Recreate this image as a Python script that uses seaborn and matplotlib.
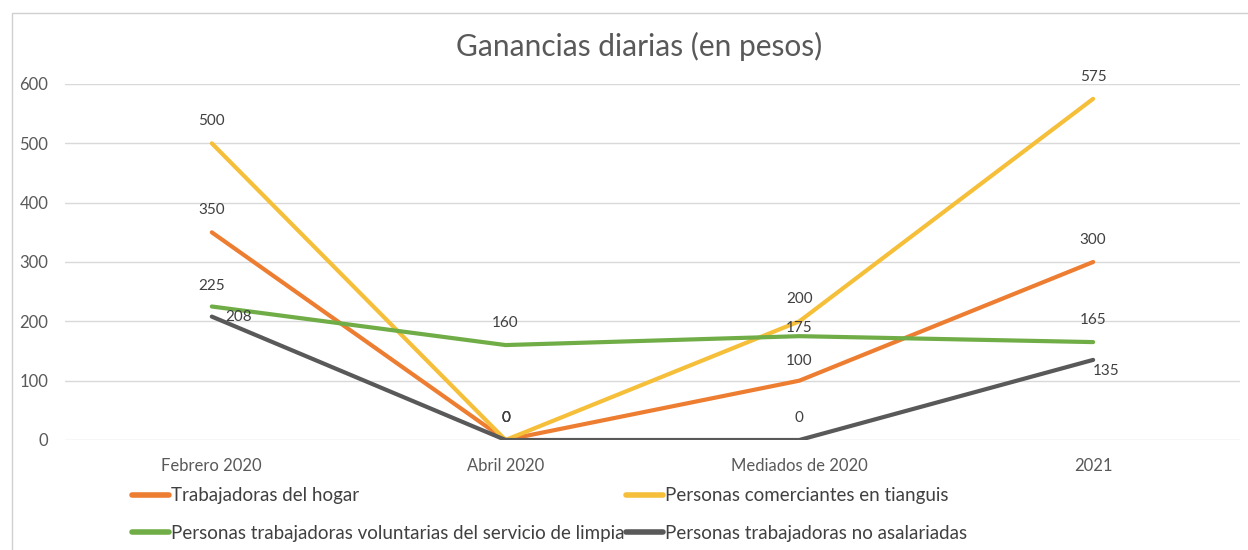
import pandas as pd
import matplotlib
matplotlib.use("Agg")
import matplotlib.pyplot as plt
import seaborn as sns
from matplotlib.patches import Rectangle

# data
periods = ["Febrero 2020", "Abril 2020", "Mediados de 2020", "2021"]
hogar = [350, 0, 100, 300]
tianguis = [500, 0, 200, 575]
limpia = [225, 160, 175, 165]
no_asalariadas = [208, 0, 0, 135]

series_names = [
    "Trabajadoras del hogar",
    "Personas comerciantes en tianguis",
    "Personas trabajadoras voluntarias del servicio de limpia",
    "Personas trabajadoras no asalariadas",
]
series_values = [hogar, tianguis, limpia, no_asalariadas]
colors = ["#ED7D31", "#F6BF3A", "#70AD47", "#595959"]

# label offsets (points) for each series / point
label_offsets = [
    [(0, 16), (0, 16), (0, 14), (0, 16)],
    [(0, 16), (0, 16), (0, 16), (0, 16)],
    [(0, 15), (0, 16), (0, 6), (0, 16)],
    [(19, 0), (0, 16), (0, 16), (9, -8)],
]

# build long table for seaborn
rows = []
for name, vals in zip(series_names, series_values):
    for i, (p, v) in enumerate(zip(periods, vals)):
        rows.append({"periodo": i, "label": p, "serie": name, "valor": v})
df = pd.DataFrame(rows)

sns.set_style("white")
plt.rcParams["font.family"] = ["Lato", "DejaVu Sans"]

fig = plt.figure(figsize=(12.48, 5.5), dpi=100)
ax = fig.add_axes([0.052, 0.2, 0.9416, 0.6473])

# frame around the chart
fig.patches.append(Rectangle((12 / 1248, -0.1), 1.2, 1 - 13 / 550 + 0.1,
                             transform=fig.transFigure, fill=False,
                             edgecolor="#D0D0D0", linewidth=1))

sns.lineplot(data=df, x="periodo", y="valor", hue="serie", hue_order=series_names,
             palette=colors, linewidth=3, sort=False, ax=ax, legend=False)
for line in ax.lines:
    line.set_solid_capstyle("round")
    line.set_solid_joinstyle("round")

# data labels
for vals, offs in zip(series_values, label_offsets):
    for i, (v, off) in enumerate(zip(vals, offs)):
        ax.annotate(str(v), (i, v), xytext=off, textcoords="offset points",
                    ha="center", va="center", fontsize=11, color="#404040")

ax.set_xlim(-0.5, len(periods) - 0.5)
ax.set_ylim(0, 600)
ax.set_yticks(range(0, 601, 100))
ax.set_xticks(range(len(periods)))
ax.set_xticklabels(periods)
ax.tick_params(axis="both", length=0, labelsize=12, labelcolor="#595959")
ax.tick_params(axis="x", pad=13)
ax.tick_params(axis="y", pad=12)
ax.yaxis.grid(True, color="#D9D9D9", linewidth=1)
ax.set_axisbelow(True)
for s in ax.spines.values():
    s.set_visible(False)
ax.set_xlabel("")
ax.set_ylabel("")

fig.text(0.512, 0.916, "Ganancias diarias (en pesos)", ha="center", va="center",
         fontsize=21.5, color="#595959")

# legend, two rows of two
handles = [plt.Line2D([], [], color=c, linewidth=4) for c in colors]
order = [0, 2, 1, 3]
fig.legend([handles[i] for i in order], [series_names[i] for i in order],
           loc="upper left", bbox_to_anchor=(0.092, 0.145), ncol=2, frameon=False,
           fontsize=13.5, handlelength=2.0, handletextpad=0.1, columnspacing=0.05,
           labelspacing=1.1, labelcolor="#404040")

fig.savefig("out.png", dpi=100)
